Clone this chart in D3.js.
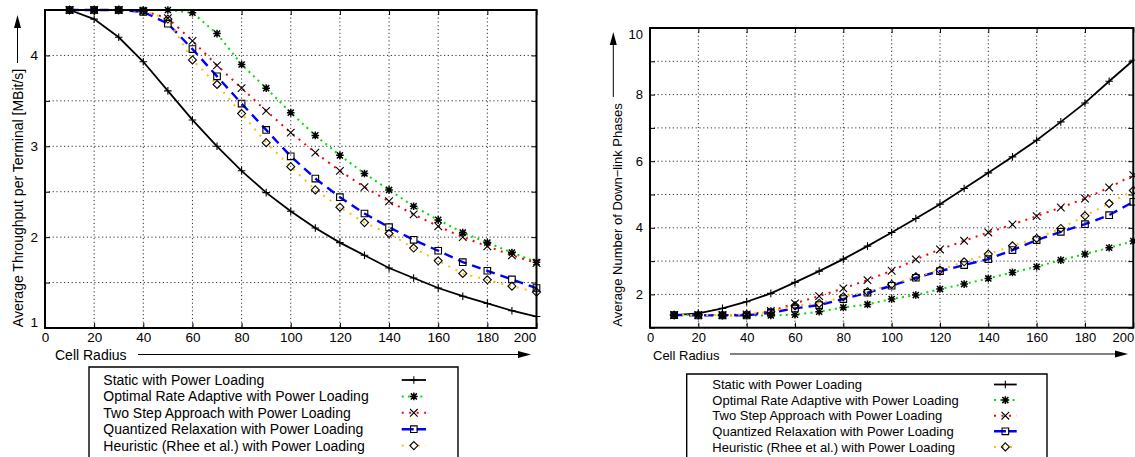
<!DOCTYPE html>
<html><head><meta charset="utf-8">
<script src="https://cdn.jsdelivr.net/npm/d3@7"></script>
<style>
body{margin:0;background:#fff}
svg{display:block}
text{font-family:"Liberation Sans",Arial,Helvetica,sans-serif;fill:#000}
</style>
</head><body>
<svg id="c" width="1135" height="457"></svg>
<script>
// ---------------- DATA ----------------
const radius = [10,20,30,40,50,60,70,80,90,100,110,120,130,140,150,160,170,180,190,200];
const seriesNames = [
  "Static with Power Loading",
  "Optimal Rate Adaptive with Power Loading",
  "Two Step Approach with Power Loading",
  "Quantized Relaxation with Power Loading",
  "Heuristic (Rhee et al.) with Power Loading"
];
// Average throughput per terminal [MBit/s]
const thrStatic    = [4.5,4.40,4.20,3.93,3.61,3.29,3.00,2.73,2.49,2.285,2.10,1.94,1.80,1.66,1.55,1.44,1.35,1.27,1.19,1.126];
const thrOptimal   = [4.5,4.5,4.5,4.5,4.5,4.47,4.24,3.90,3.64,3.37,3.12,2.90,2.70,2.52,2.34,2.19,2.05,1.94,1.83,1.725];
const thrTwoStep   = [4.5,4.5,4.5,4.49,4.41,4.16,3.89,3.64,3.39,3.15,2.93,2.73,2.55,2.395,2.25,2.12,2.00,1.90,1.80,1.715];
const thrQuantized = [4.5,4.5,4.5,4.48,4.35,4.07,3.77,3.47,3.18,2.89,2.645,2.44,2.26,2.11,1.97,1.85,1.725,1.63,1.535,1.44];
const thrHeuristic = [4.5,4.5,4.5,4.49,4.40,3.95,3.68,3.36,3.04,2.775,2.52,2.33,2.16,2.04,1.88,1.74,1.60,1.53,1.46,1.395];
// Average number of down-link phases
const phStatic    = [1.38,1.43,1.58,1.78,2.03,2.36,2.70,3.06,3.45,3.86,4.28,4.71,5.18,5.65,6.13,6.63,7.18,7.75,8.40,9.03];
const phOptimal   = [1.38,1.38,1.37,1.37,1.37,1.39,1.48,1.61,1.70,1.86,1.98,2.16,2.31,2.48,2.66,2.83,3.03,3.21,3.40,3.60];
const phTwoStep   = [1.38,1.38,1.38,1.40,1.50,1.73,1.95,2.18,2.43,2.71,3.05,3.35,3.61,3.86,4.10,4.35,4.61,4.88,5.21,5.58];
const phQuantized = [1.38,1.37,1.37,1.37,1.45,1.58,1.68,1.86,2.05,2.26,2.50,2.70,2.88,3.06,3.33,3.63,3.88,4.11,4.38,4.78];
const phHeuristic = [1.38,1.38,1.38,1.40,1.48,1.66,1.73,1.93,2.08,2.30,2.53,2.73,2.98,3.21,3.46,3.68,3.98,4.36,4.73,5.12];
// ticks
const xTicks = [0,20,40,60,80,100,120,140,160,180,200];
const thrYTicks = [1,1.5,2,2.5,3,3.5,4,4.5];
const thrYLabels = [1,2,3,4];
const phYTicks = [1,2,3,4,5,6,7,8,9,10];
const phYLabels = [2,4,6,8,10];
const xDomain = [0,200];
const thrDomain = [1,4.5];
const phDomain = [1,10];
const xTitle = "Cell Radius";
const thrTitle = "Average Throughput per Terminal [MBit/s]";
const phTitle = "Average Number of Down\u2212link Phases";

// ---------------- STYLES ----------------
const styles = [
  {color:"#000000", dash:null,      width:1.8, marker:"plus"},
  {color:"#00e000", dash:"2,4.2",   width:2,   marker:"star"},
  {color:"#ff0000", dash:"2,5.5",   width:2,   marker:"cross"},
  {color:"#0000ff", dash:"9,6",     width:2.4, marker:"square"},
  {color:"#ffc000", dash:"2,6",     width:2,   marker:"diamond"}
];

const svg = d3.select("#c");

function drawMarker(g, type, cx, cy) {
  const s = 3.8;
  let d;
  if (type === "plus") d = `M${cx-s},${cy}H${cx+s}M${cx},${cy-s}V${cy+s}`;
  else if (type === "cross") d = `M${cx-s},${cy-s}L${cx+s},${cy+s}M${cx-s},${cy+s}L${cx+s},${cy-s}`;
  else if (type === "star") d = `M${cx-s},${cy}H${cx+s}M${cx},${cy-s}V${cy+s}M${cx-s*0.8},${cy-s*0.8}L${cx+s*0.8},${cy+s*0.8}M${cx-s*0.8},${cy+s*0.8}L${cx+s*0.8},${cy-s*0.8}`;
  else if (type === "square") d = `M${cx-3.3},${cy-3.3}h6.6v6.6h-6.6Z`;
  else if (type === "diamond") d = `M${cx},${cy-4}L${cx+4},${cy}L${cx},${cy+4}L${cx-4},${cy}Z`;
  g.append("path").attr("d", d).attr("fill","none").attr("stroke","#000")
    .attr("stroke-width", type==="star"?1.5:1.1);
}

function panel(cfg) {
  const x = d3.scaleLinear().domain(xDomain).range([cfg.left, cfg.right]);
  const y = d3.scaleLinear().domain(cfg.yDomain).range([cfg.bottom, cfg.top]);
  const g = svg.append("g");

  // grid
  const grid = g.append("g").attr("stroke","#333").attr("stroke-width",1).attr("stroke-dasharray","1.2,2.6");
  xTicks.filter(v => v > xDomain[0] && v < xDomain[1]).forEach(v => {
    grid.append("line").attr("x1",x(v)).attr("x2",x(v)).attr("y1",cfg.top).attr("y2",cfg.bottom);
  });
  cfg.yTicks.filter(v => v > cfg.yDomain[0] && v < cfg.yDomain[1]).forEach(v => {
    grid.append("line").attr("x1",cfg.left).attr("x2",cfg.right).attr("y1",y(v)).attr("y2",y(v));
  });

  // axes with inward ticks
  const fmtY = d => cfg.yLabels.includes(d) ? String(d) : "";
  const ax = [
    g.append("g").attr("transform",`translate(0,${cfg.bottom})`)
      .call(d3.axisBottom(x).tickValues(xTicks).tickSizeInner(-5).tickSizeOuter(0).tickPadding(cfg.xPad).tickFormat(d3.format("d"))),
    g.append("g").attr("transform",`translate(0,${cfg.top})`)
      .call(d3.axisTop(x).tickValues(xTicks).tickSizeInner(-5).tickSizeOuter(0).tickFormat("")),
    g.append("g").attr("transform",`translate(${cfg.left},0)`)
      .call(d3.axisLeft(y).tickValues(cfg.yTicks).tickSizeInner(-5).tickSizeOuter(0).tickPadding(cfg.yPad).tickFormat(fmtY)),
    g.append("g").attr("transform",`translate(${cfg.right},0)`)
      .call(d3.axisRight(y).tickValues(cfg.yTicks).tickSizeInner(-5).tickSizeOuter(0).tickFormat(""))
  ];
  ax.forEach(a => {
    a.select(".domain").remove();
    a.selectAll("line").attr("stroke","#000").attr("stroke-width",1);
    a.selectAll("text").attr("font-family","Liberation Sans, Arial, sans-serif").attr("font-size",cfg.tickFont).attr("fill","#000");
  });
  // special label offsets (gnuplot keeps edge labels inside)
  ax[0].selectAll(".tick").filter(d => d === xDomain[1]).select("text").attr("dx", cfg.lastXdx);
  ax[2].selectAll(".tick").filter(d => d === cfg.yDomain[0]).select("text").attr("dy", (0.32*cfg.tickFont - 6) + "px");
  ax[2].selectAll(".tick").filter(d => d === cfg.yDomain[1]).select("text").attr("dy", (0.32*cfg.tickFont + 6) + "px");

  // series
  cfg.series.forEach((vals, i) => {
    const st = styles[i];
    const pts = radius.map((r, k) => [x(r), y(vals[k])]);
    g.append("path").attr("d", d3.line()(pts)).attr("fill","none")
      .attr("stroke", st.color).attr("stroke-width", st.width)
      .attr("stroke-dasharray", st.dash);
  });
  cfg.series.forEach((vals, i) => {
    const mg = g.append("g");
    radius.forEach((r, k) => drawMarker(mg, styles[i].marker, x(r), y(vals[k])));
  });

  // frame
  g.append("rect").attr("x",cfg.left).attr("y",cfg.top).attr("width",cfg.right-cfg.left)
    .attr("height",cfg.bottom-cfg.top).attr("fill","none").attr("stroke","#000").attr("stroke-width",2);

  // y title + arrow
  g.append("text").attr("transform",`translate(${cfg.yTitleX},${cfg.yTitleY}) rotate(-90)`)
    .attr("text-anchor","middle").attr("font-size",cfg.font).text(cfg.yTitle);
  g.append("line").attr("x1",cfg.yArrowX).attr("x2",cfg.yArrowX).attr("y1",cfg.yArrowFrom).attr("y2",cfg.yArrowTip+10)
    .attr("stroke","#000").attr("stroke-width",1);
  g.append("path").attr("d",`M${cfg.yArrowX},${cfg.yArrowTip}l-3.5,13h7Z`).attr("fill","#000");

  // x title + arrow
  g.append("text").attr("x",cfg.xTitleX).attr("y",cfg.xTitleY).attr("font-size",cfg.font).text(xTitle);
  g.append("line").attr("x1",cfg.xArrowFrom).attr("x2",cfg.xArrowTip-10).attr("y1",cfg.xArrowY).attr("y2",cfg.xArrowY)
    .attr("stroke","#000").attr("stroke-width",1);
  g.append("path").attr("d",`M${cfg.xArrowTip},${cfg.xArrowY}l-13,-3.5v7Z`).attr("fill","#000");

  // legend
  const lg = g.append("g");
  lg.append("path").attr("d",`M${cfg.legL},470V${cfg.legT}H${cfg.legR}V470`).attr("fill","none")
    .attr("stroke","#000").attr("stroke-width",1.4);
  seriesNames.forEach((name, i) => {
    const cy = cfg.legY0 + i*cfg.legStep;
    lg.append("text").attr("x",cfg.legTextX).attr("y",cy + 0.36*cfg.font).attr("font-size",cfg.font).text(name);
    const st = styles[i];
    lg.append("line").attr("x1",cfg.legS0).attr("x2",cfg.legS1).attr("y1",cy).attr("y2",cy)
      .attr("stroke",st.color).attr("stroke-width",st.width).attr("stroke-dasharray", st.dash ? (i===3 ? "12,3" : st.dash) : null);
    drawMarker(lg, st.marker, (cfg.legS0+cfg.legS1)/2, cy);
  });
}

panel({
  left:45, right:536.5, top:10, bottom:328, yDomain:thrDomain, yTicks:thrYTicks, yLabels:thrYLabels,
  series:[thrStatic,thrOptimal,thrTwoStep,thrQuantized,thrHeuristic],
  font:14, tickFont:13.5, xPad:4, yPad:7, lastXdx:-12,
  yTitle:thrTitle, yTitleX:22.5, yTitleY:198, yArrowX:17.5, yArrowFrom:63, yArrowTip:15,
  xTitleX:55, xTitleY:360, xArrowFrom:138, xArrowTip:531, xArrowY:354.5,
  legL:89, legR:458, legT:367, legY0:380, legStep:16.4, legTextX:103.3, legS0:401.7, legS1:426
});
panel({
  left:650, right:1133.3, top:28, bottom:327.7, yDomain:phDomain, yTicks:phYTicks, yLabels:phYLabels,
  series:[phStatic,phOptimal,phTwoStep,phQuantized,phHeuristic],
  font:13, tickFont:13, xPad:5, yPad:7, lastXdx:-10.5,
  yTitle:phTitle, yTitleX:621.5, yTitleY:215, yArrowX:613.3, yArrowFrom:97, yArrowTip:32,
  xTitleX:653, xTitleY:360, xArrowFrom:730, xArrowTip:1128, xArrowY:354,
  legL:686.7, legR:1047, legT:374, legY0:384.5, legStep:15.6, legTextX:712.3, legS0:994, legS1:1016.7
});
</script>
</body></html>
